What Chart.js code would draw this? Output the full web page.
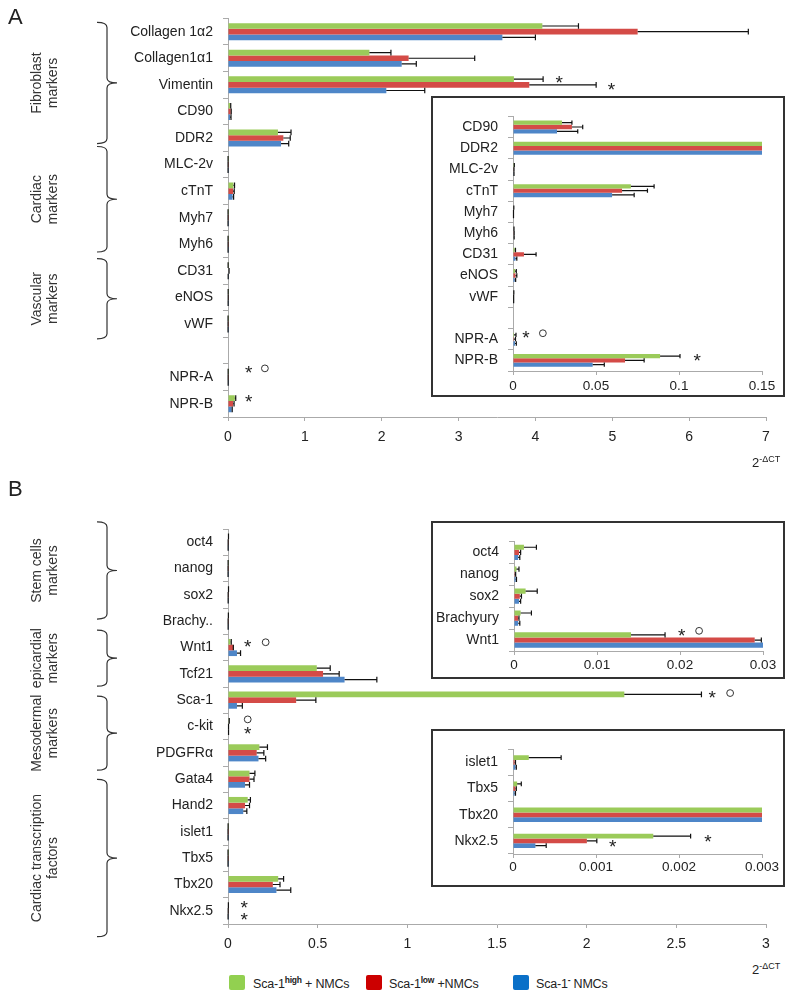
<!DOCTYPE html>
<html>
<head>
<meta charset="utf-8">
<script src="https://cdn.jsdelivr.net/npm/chart.js@4.4.1/dist/chart.umd.min.js"></script>
<style>
  body { margin: 0; background: #fff; width: 787px; height: 998px; position: relative; overflow: hidden;
         font-family: "Liberation Sans", Arial, sans-serif; color: #222; }
  .abs { position: absolute; }
  .inset { position: absolute; border: 2px solid #333; background: #fff; box-sizing: border-box; }
  .inset canvas { display: block; }
  .letter { position: absolute; font-size: 22px; }
  .unit { position: absolute; font-size: 13px; }
  .unit sup { font-size: 9px; }
  .key { position: absolute; top: 975px; width: 16px; height: 15px; border-radius: 2px; }
  .keytxt { position: absolute; top: 975px; font-size: 12.5px; letter-spacing: -0.2px; }
  .keytxt sup { font-size: 8.5px; font-weight: bold; }
</style>
</head>
<body>
<canvas id="chartA" class="abs" style="left:0;top:0" width="787" height="470"></canvas>
<canvas id="chartB" class="abs" style="left:0;top:470px" width="787" height="490"></canvas>
<div class="inset" style="left:431px;top:96px;width:354px;height:301px"><canvas id="insetA" width="350" height="297"></canvas></div>
<div class="inset" style="left:431px;top:521px;width:354px;height:158px"><canvas id="insetB1" width="350" height="154"></canvas></div>
<div class="inset" style="left:431px;top:729px;width:354px;height:158px"><canvas id="insetB2" width="350" height="154"></canvas></div>

<div class="letter" style="left:8px;top:4px">A</div>
<div class="letter" style="left:8px;top:476px">B</div>
<div class="unit" style="left:752px;top:454px">2<sup>-ΔCT</sup></div>
<div class="unit" style="left:752px;top:961px">2<sup>-ΔCT</sup></div>

<div class="key" style="left:229px;background:#92D050"></div>
<div class="keytxt" style="left:253px">Sca-1<sup>high</sup> + NMCs</div>
<div class="key" style="left:366px;background:#CC0000"></div>
<div class="keytxt" style="left:389px">Sca-1<sup>low</sup> +NMCs</div>
<div class="key" style="left:513px;background:#0A70C8"></div>
<div class="keytxt" style="left:536px">Sca-1<sup>-</sup> NMCs</div>

<script>
// ---- panel A data ----
const labelsA = ['Collagen 1α2','Collagen1α1','Vimentin','CD90','DDR2','MLC-2v','cTnT','Myh7','Myh6','CD31','eNOS','vWF','','NPR-A','NPR-B']
const highA    = [4.09, 1.84, 3.72, 0.0295, 0.65, 0.0005, 0.071, 0.0003, 0.0003, 0.001, 0.0012, 0.0003, null, 0.0006, 0.0886]
const highErrA = [0.47, 0.28, 0.38, 0.006, 0.17, 0.0003, 0.014, 0.0002, 0.0003, 0.0005, 0.0008, 0.0002, null, 0.0012, 0.012]
const lowA     = [5.33, 2.35, 3.92, 0.0355, 0.72, 0.0004, 0.0657, 0.0002, 0.0004, 0.0066, 0.0015, 0.0002, null, 0.0005, 0.0675]
const lowErrA  = [1.44, 0.86, 0.87, 0.0065, 0.09, 0.0002, 0.0153, 0.0001, 0.0003, 0.0073, 0.0008, 0.0002, null, 0.001, 0.0115]
const negA     = [3.57, 2.26, 2.06, 0.0265, 0.69, 0.0004, 0.0597, 0.0002, 0.0003, 0.0015, 0.001, 0.0002, null, 0.0012, 0.048]
const negErrA  = [0.43, 0.19, 0.5, 0.0125, 0.1, 0.0002, 0.0133, 0.0001, 0.0004, 0.0008, 0.0006, 0.0002, null, 0.0008, 0.007]
const ticksA = [0, 7, 1]
const insetTicksA = [0, 0.15, 0.05]
const insetStartA = 3   // inset starts at CD90

// ---- panel B data ----
const labelsB = ['oct4','nanog','sox2','Brachy..','Wnt1','Tcf21','Sca-1','c-kit','PDGFRα','Gata4','Hand2','islet1','Tbx5','Tbx20','Nkx2.5']
const insetLabelsB1 = ['oct4','nanog','sox2','Brachyury','Wnt1']
const insetLabelsB2 = ['islet1','Tbx5','Tbx20','Nkx2.5']
const highB    = [0.0012, 0.0003, 0.0014, 0.0008, 0.0141, 0.495, 2.21, 0.004, 0.175, 0.12, 0.11, 0.00019, 0.00005, 0.28, 0.00169]
const highErrB = [0.0015, 0.0003, 0.0014, 0.0013, 0.0041, 0.075, 0.43, 0.003, 0.045, 0.03, 0.015, 0.00039, 0.00005, 0.03, 0.00045]
const lowB     = [0.0006, 0.0001, 0.0007, 0.0005, 0.029, 0.53, 0.38, 0.002, 0.16, 0.12, 0.095, 0.00002, 0.00003, 0.25, 0.00089]
const lowErrB  = [0.0002, 0.0001, 0.0002, 0.0001, 0.0008, 0.09, 0.11, 0.001, 0.04, 0.025, 0.025, 0.00001, 0.00001, 0.04, 0.00012]
const negB     = [0.0005, 0.0002, 0.0006, 0.0005, 0.05, 0.65, 0.05, 0.002, 0.17, 0.095, 0.085, 0.00003, 0.00002, 0.27, 0.00027]
const negErrB  = [0.0002, 0.0001, 0.0002, 0.0002, 0.02, 0.18, 0.03, 0.001, 0.04, 0.025, 0.02, 0.00001, 0.00001, 0.08, 0.00013]
const ticksB = [0, 3, 0.5]
const insetTicksB1 = [0, 0.03, 0.01]
const insetTicksB2 = [0, 0.003, 0.001]

// significance marks: category index, x value, shift within the row, symbol
const marksA = [
  {i: 2, x: 4.31, dy: -0.25, t: '*'}, {i: 2, x: 4.99, dy: 0, t: '*'},
  {i: 13, x: 0.27, dy: -0.33, t: '*'}, {i: 13, x: 0.48, dy: -0.33, t: 'o'},
  {i: 14, x: 0.27, dy: -0.25, t: '*'}
]
const insetMarksA = [
  {i: 10, x: 0.0078, dy: -0.28, t: '*'}, {i: 10, x: 0.018, dy: -0.28, t: 'o'},
  {i: 11, x: 0.111, dy: -0.2, t: '*'}
]
const marksB = [
  {i: 4, x: 0.11, dy: -0.2, t: '*'}, {i: 4, x: 0.21, dy: -0.2, t: 'o'},
  {i: 6, x: 2.70, dy: -0.27, t: '*'}, {i: 6, x: 2.80, dy: -0.27, t: 'o'},
  {i: 7, x: 0.11, dy: -0.27, t: 'o'}, {i: 7, x: 0.11, dy: 0.1, t: '*'},
  {i: 14, x: 0.09, dy: -0.3, t: '*'}, {i: 14, x: 0.09, dy: 0.15, t: '*'}
]
const insetMarksB1 = [{i: 4, x: 0.0202, dy: -0.42, t: '*'}, {i: 4, x: 0.0223, dy: -0.42, t: 'o'}]
const insetMarksB2 = [{i: 3, x: 0.00235, dy: -0.15, t: '*'}, {i: 3, x: 0.0012, dy: 0.05, t: '*'}]

// braces: span in category units (row i runs from i-0.5 to i+0.5)
const groupsA = [
  {from: -0.35, to: 4.21, text: ['Fibroblast', 'markers']},
  {from: 4.32, to: 8.29, text: ['Cardiac', 'markers']},
  {from: 8.54, to: 11.56, text: ['Vascular', 'markers']}
]
const groupsB = [
  {from: -0.77, to: 2.92, text: ['Stem cells', 'markers']},
  {from: 3.34, to: 5.47, text: ['epicardial', 'markers']},
  {from: 5.85, to: 8.66, text: ['Mesodermal', 'markers']},
  {from: 9.01, to: 14.98, text: ['Cardiac transcription', 'factors']}
]

const GREEN = '#9BCB5A', RED = '#D44B47', BLUE = '#4E86C8'
const FONT = '"Liberation Sans", Arial, sans-serif'
Chart.defaults.font.family = FONT
Chart.defaults.font.size = 14
Chart.defaults.color = '#222'

function extras(marks, groups) {
  return {
    id: 'extras',
    afterDatasetsDraw(chart) {
      const ctx = chart.ctx, area = chart.chartArea
      const xs = chart.scales.x, ys = chart.scales.y
      const y0 = ys.getPixelForValue(0)
      const row = ys.getPixelForValue(1) - y0
      // error bars
      ctx.save()
      ctx.beginPath()
      ctx.rect(area.left - 2, area.top - 5, area.right - area.left + 3, area.bottom - area.top + 10)
      ctx.clip()
      ctx.strokeStyle = '#111'
      ctx.lineWidth = 1.2
      chart.data.datasets.forEach((ds, d) => {
        const meta = chart.getDatasetMeta(d)
        ds.errors.forEach((e, i) => {
          const v = ds.data[i]
          if (v == null || e == null) return
          const bar = meta.data[i]
          const x0 = xs.getPixelForValue(v), x1 = xs.getPixelForValue(v + e)
          const h = bar.height / 2
          ctx.beginPath()
          ctx.moveTo(x0, bar.y); ctx.lineTo(x1, bar.y)
          ctx.moveTo(x1, bar.y - h); ctx.lineTo(x1, bar.y + h)
          ctx.stroke()
        })
      })
      ctx.restore()

      // stars and circles
      ctx.save()
      ctx.fillStyle = '#222'
      ctx.strokeStyle = '#333'
      ctx.lineWidth = 1
      ctx.textAlign = 'center'
      ctx.textBaseline = 'alphabetic'
      ctx.font = '19px ' + FONT
      marks.forEach(m => {
        const cx = xs.getPixelForValue(m.x)
        const cy = y0 + (m.i + m.dy) * row
        if (m.t === '*') {
          ctx.fillText('*', cx, cy + 11)
        } else {
          ctx.beginPath()
          ctx.arc(cx, cy, 3.4, 0, Math.PI * 2)
          ctx.stroke()
        }
      })
      ctx.restore()

      // braces with group names
      if (!groups) return
      ctx.save()
      ctx.strokeStyle = '#333'
      ctx.lineWidth = 1.2
      ctx.fillStyle = '#333'
      ctx.font = '14px ' + FONT
      ctx.textAlign = 'center'
      ctx.textBaseline = 'middle'
      groups.forEach(g => {
        const top = y0 + g.from * row
        const bot = y0 + g.to * row
        const mid = (top + bot) / 2
        const x0 = 97, x1 = 107, x2 = 117, r = 5
        ctx.beginPath()
        ctx.moveTo(x0, top)
        ctx.quadraticCurveTo(x1, top, x1, top + r)
        ctx.lineTo(x1, mid - r)
        ctx.quadraticCurveTo(x1, mid, x2, mid)
        ctx.quadraticCurveTo(x1, mid, x1, mid + r)
        ctx.lineTo(x1, bot - r)
        ctx.quadraticCurveTo(x1, bot, x0, bot)
        ctx.stroke()
        ctx.save()
        ctx.translate(45, mid)
        ctx.rotate(-Math.PI / 2)
        ctx.fillText(g.text[0], 0, -8)
        ctx.fillText(g.text[1], 0, 8)
        ctx.restore()
      })
      ctx.restore()
    }
  }
}

function makeChart(id, labels, sets, ticks, opt) {
  return new Chart(document.getElementById(id), {
    type: 'bar',
    data: {
      labels: labels,
      datasets: [
        {label: 'Sca-1 high + NMCs', data: sets[0], errors: sets[1], backgroundColor: GREEN},
        {label: 'Sca-1 low + NMCs', data: sets[2], errors: sets[3], backgroundColor: RED},
        {label: 'Sca-1 - NMCs', data: sets[4], errors: sets[5], backgroundColor: BLUE}
      ]
    },
    options: {
      indexAxis: 'y',
      responsive: false,
      animation: false,
      datasets: {bar: {categoryPercentage: opt.cat, barPercentage: 1, borderWidth: 0}},
      layout: {padding: opt.pad},
      plugins: {legend: {display: false}, tooltip: {enabled: false}},
      scales: {
        x: {
          min: ticks[0], max: ticks[1],
          ticks: {stepSize: ticks[2], padding: opt.xpad, color: '#222', font: {size: opt.xfont || 14},
                  callback: v => String(Math.round(v * 1e6) / 1e6)},
          grid: {drawOnChartArea: false, tickLength: 4, color: '#aaa'},
          border: {color: '#aaa'},
          afterFit: s => { s.height = opt.xh }
        },
        y: {
          ticks: {padding: 10, color: '#222', autoSkip: false},
          grid: {drawOnChartArea: false, tickLength: 5, color: '#aaa', offset: true},
          border: {color: '#aaa'},
          afterFit: s => { s.width = opt.yw }
        }
      }
    },
    plugins: [extras(opt.marks, opt.groups)]
  })
}

const cut = (arr, a, b) => arr.slice(a, b)
const setsA = [highA, highErrA, lowA, lowErrA, negA, negErrA]
const setsB = [highB, highErrB, lowB, lowErrB, negB, negErrB]

makeChart('chartA', labelsA, setsA, ticksA,
  {cat: 0.64, pad: {left: 0, right: 21, top: 9, bottom: 23}, xh: 30, yw: 228, xpad: 8, marks: marksA, groups: groupsA})
makeChart('insetA', labelsA.slice(insetStartA), setsA.map(s => cut(s, insetStartA)), insetTicksA,
  {cat: 0.61, pad: {left: 0, right: 21, top: 17, bottom: 4}, xh: 20, yw: 80, xpad: 3, xfont: 13.5, marks: insetMarksA})
makeChart('chartB', labelsB, setsB, ticksB,
  {cat: 0.65, pad: {left: 0, right: 21, top: 59, bottom: 6}, xh: 30, yw: 228, xpad: 8, marks: marksB, groups: groupsB})
makeChart('insetB1', insetLabelsB1, setsB.map(s => cut(s, 0, 5)), insetTicksB1,
  {cat: 0.7, pad: {left: 0, right: 20, top: 8, bottom: 6}, xh: 20, yw: 81, xpad: 2, xfont: 13.5, marks: insetMarksB1})
makeChart('insetB2', insetLabelsB2, setsB.map(s => cut(s, 11)), insetTicksB2,
  {cat: 0.55, pad: {left: 0, right: 21, top: 8, bottom: 11}, xh: 20, yw: 80, xpad: 1, xfont: 13.5, marks: insetMarksB2})
</script>
</body>
</html>
